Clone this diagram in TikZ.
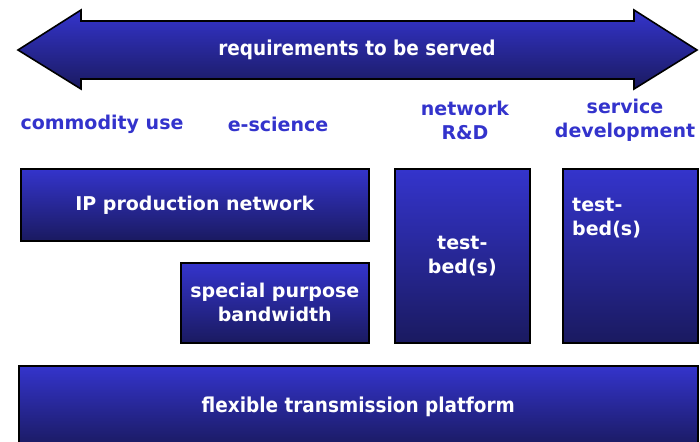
\documentclass[tikz,border=0pt]{standalone}
\usepackage{fontspec}
\setsansfont{DejaVu Sans}
\newfontfamily\condfont{DejaVu Sans Condensed}
\usepackage{tikz}
\usetikzlibrary{positioning}
\definecolor{boxtop}{RGB}{52,52,204}
\definecolor{boxbottom}{RGB}{26,26,96}
\definecolor{labelblue}{RGB}{51,51,204}

\begin{document}
\begin{tikzpicture}[
    x=1pt, y=-1pt,
    box/.style={rectangle, draw=black, line width=1.6pt, top color=boxtop,
                bottom color=boxbottom, text=white, align=center, anchor=north west,
                font=\sffamily\bfseries\fontsize{19}{24}\selectfont},
    widebox/.style={box, font=\condfont\bfseries\fontsize{20.5}{24}\selectfont},
    colhead/.style={text=labelblue, align=center,
                font=\sffamily\bfseries\fontsize{19}{24}\selectfont}
]
    \clip (0,0) rectangle (700,441);
    % Double arrow
    \draw[line width=1.6pt, top color=boxtop, bottom color=boxbottom]
        (18,50) -- (81,10) -- (81,21) -- (634,21) -- (634,10) -- (697,50)
        -- (634,89) -- (634,79) -- (81,79) -- (81,89) -- cycle;
    \node[text=white, font=\condfont\bfseries\fontsize{20.5}{24}\selectfont]
        (reqs) at (357,50) {requirements to be served};

    % Column headings
    \node[colhead] (commodity) at (102,124) {commodity use};
    \node[colhead] (escience) at (278,124) {e-science};
    \node[colhead] (netrd) at (465,120) {network\\R\&D};
    \node[colhead] (servdev) at (625,120) {service\\development};

    % Boxes
    \node[box, minimum width=348, minimum height=72] (ipnet) at (20,168) {IP production network};
    \node[box, minimum width=188, minimum height=80] (special) at (180,262) {special purpose\\bandwidth};
    \node[box, minimum width=135, minimum height=174] (netbed) at (394,168) {test-\\bed(s)};
    \node[box, minimum width=135, minimum height=174] (servbed) at (562,168) {};
    \node[text=white, align=left, anchor=north west, inner sep=0pt,
          font=\sffamily\bfseries\fontsize{19}{24}\selectfont]
        (servtext) at ([xshift=10pt, yshift=-30pt]servbed.north west) {test-\\bed(s)};
    \node[widebox, minimum width=679, minimum height=82] (platform) at (18,365) {flexible transmission platform};
\end{tikzpicture}
\end{document}
